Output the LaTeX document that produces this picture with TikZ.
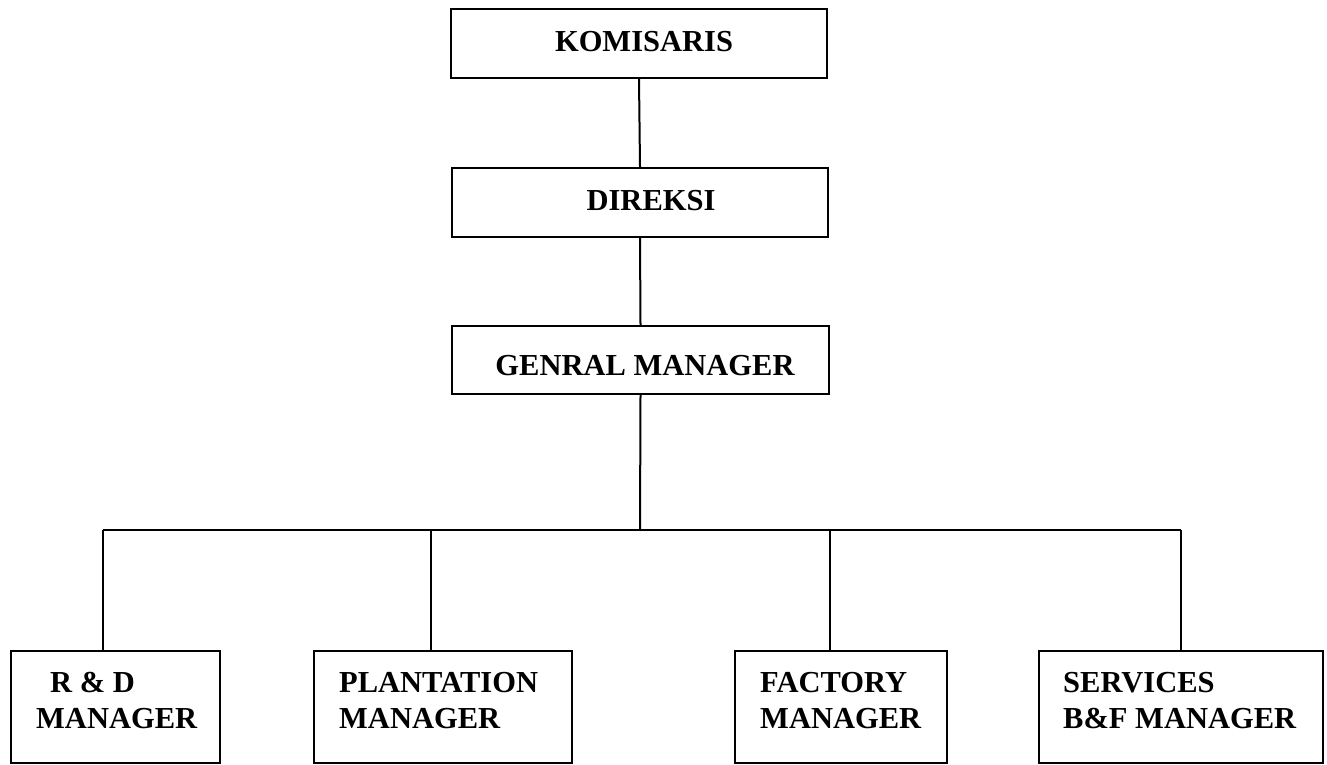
\documentclass[tikz,border=0pt]{standalone}
\usepackage{fontspec}
\setmainfont{Liberation Serif}
\begin{document}
\begin{tikzpicture}[x=1pt,y=-1pt,
  box/.style={draw=black, line width=2.4pt, inner sep=0pt, rectangle},
  conn/.style={draw=black, line width=2pt},
  lbl/.style={inner sep=0pt, font=\fontsize{30.5}{36}\selectfont\bfseries}
]
\useasboundingbox[fill=white] (0,0) rectangle (1327,765);
% boxes
\node[box, minimum width=376pt, minimum height=69pt] (kom) at (639,43.5) {};
\node[box, minimum width=376pt, minimum height=69pt] (dir) at (640,202.5) {};
\node[box, minimum width=377pt, minimum height=68pt] (gm)  at (640.5,360) {};
\node[box, minimum width=209pt, minimum height=112pt] (rd)  at (115.5,707) {};
\node[box, minimum width=258pt, minimum height=112pt] (pl)  at (443,707) {};
\node[box, minimum width=212pt, minimum height=112pt] (fa)  at (841,707) {};
\node[box, minimum width=284pt, minimum height=112pt] (sv)  at (1181,707) {};
% labels
\node[lbl, anchor=base] (tkom) at (644,52) {KOMISARIS};
\node[lbl, anchor=base] (tdir) at (651,210) {DIREKSI};
\node[lbl, anchor=base] (tgm)  at (645,375) {GENRAL MANAGER};
\node[lbl, anchor=base west] (trd1) at (50,692) {R \& D};
\node[lbl, anchor=base west] (trd2) at (36,728) {MANAGER};
\node[lbl, anchor=base west] (tpl1) at (339,692) {PLANTATION};
\node[lbl, anchor=base west] (tpl2) at (339,728) {MANAGER};
\node[lbl, anchor=base west] (tfa1) at (760,692) {FACTORY};
\node[lbl, anchor=base west] (tfa2) at (760,728) {MANAGER};
\node[lbl, anchor=base west] (tsv1) at (1063,692) {SERVICES};
\node[lbl, anchor=base west] (tsv2) at (1063,728) {B\&F MANAGER};
% bus coordinates
\coordinate (bus) at (640,530);
\coordinate (b1) at (103,530);
\coordinate (b2) at (431,530);
\coordinate (b3) at (830,530);
\coordinate (b4) at (1181,530);
% connectors
\draw[conn] (kom.south) -- (dir.north);
\draw[conn] (dir.south) -- (gm.north);
\draw[conn] (gm.south) -- (bus);
\draw[conn] (b1) -- (b4);
\draw[conn] (b1) -- (b1 |- rd.north);
\draw[conn] (b2) -- (b2 |- pl.north);
\draw[conn] (b3) -- (b3 |- fa.north);
\draw[conn] (b4) -- (b4 |- sv.north);
\end{tikzpicture}
\end{document}
